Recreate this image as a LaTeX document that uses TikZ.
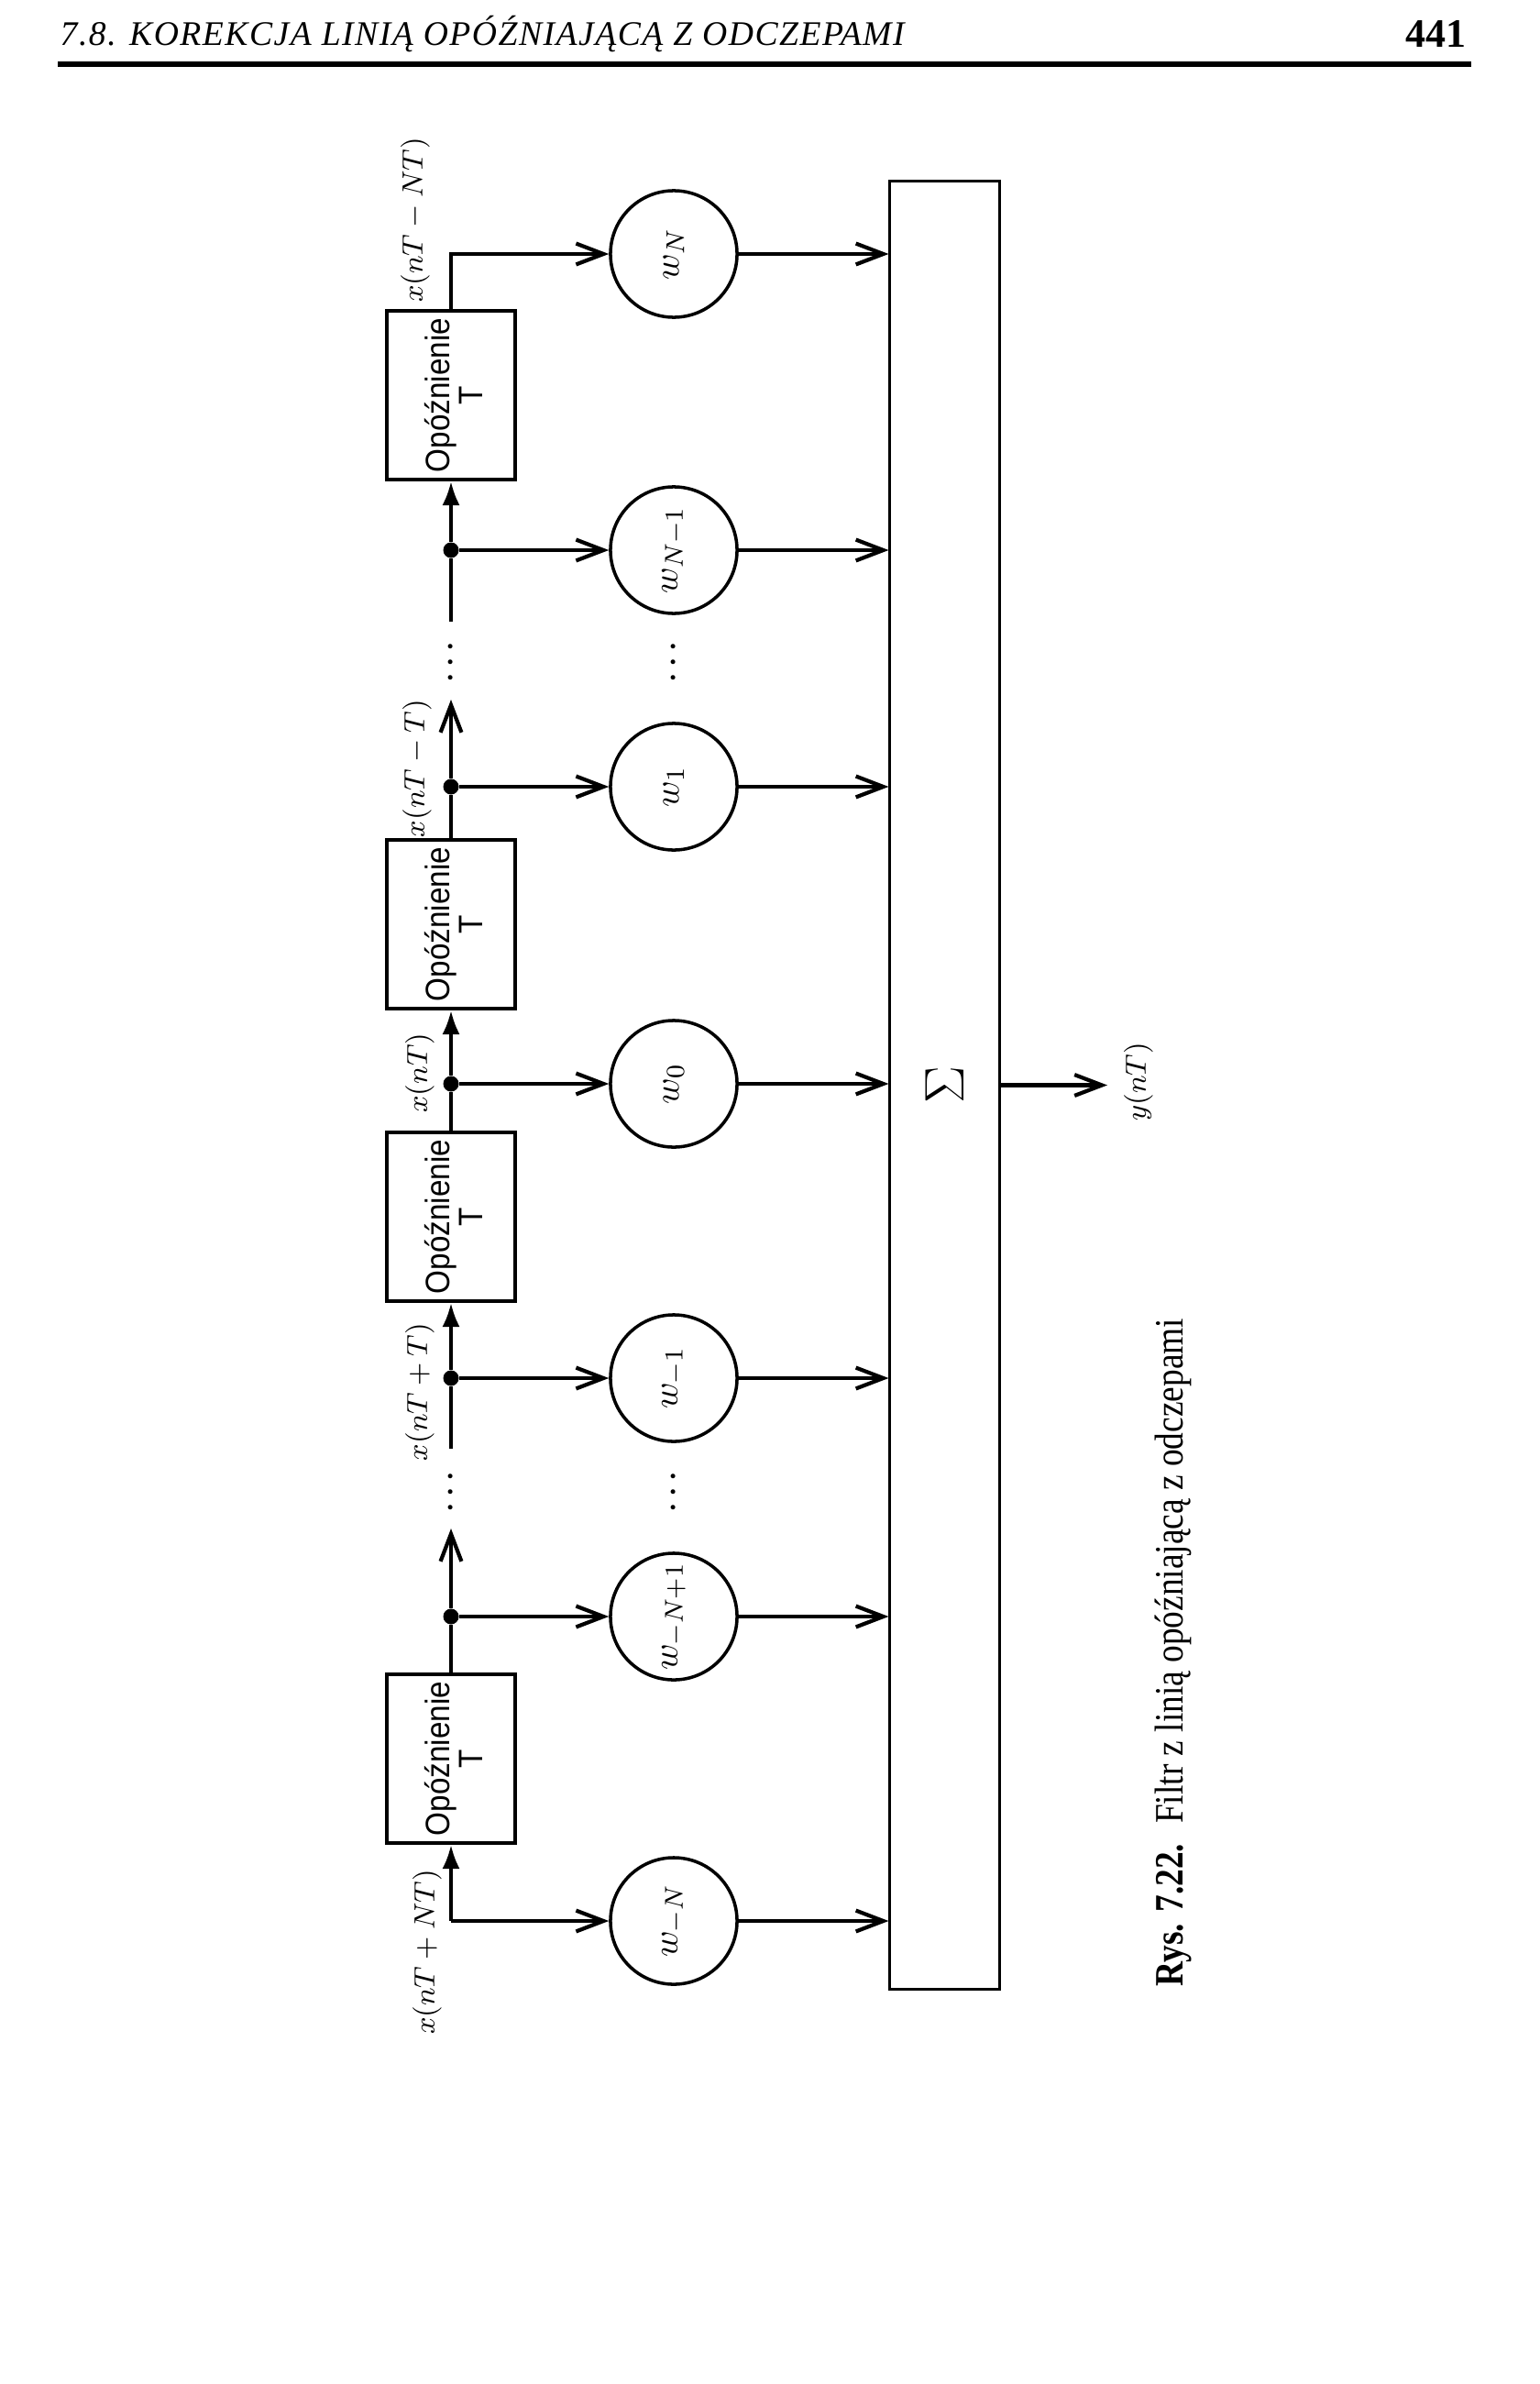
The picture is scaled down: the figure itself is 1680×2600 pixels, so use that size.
\documentclass[tikz,border=0pt]{standalone}
\usepackage{fontspec}
\usepackage{graphicx}
\setmainfont{Liberation Serif}
\newfontfamily\boxfont[FakeStretch=0.9]{Liberation Sans}
\newfontfamily\capfont[FakeStretch=0.85]{Liberation Serif}
\newfontfamily\headfont[LetterSpace=4]{Liberation Serif}
\usetikzlibrary{arrows.meta}
\begin{document}
\begin{tikzpicture}[x=0.01cm,y=-0.01cm,
  wire/.style={line width=1.2pt},
  tap/.style={wire,-{Straight Barb[length=8.5pt,width=6.5pt]}},
  feed/.style={wire,-{Latex[length=7.5pt,width=5.5pt]}},
  delaybox/.style={draw,line width=1pt,minimum width=1.40cm,minimum height=1.84cm,inner sep=0pt},
  boxtext/.style={inner sep=0pt,font=\boxfont\fontsize{10.5}{10}\selectfont},
  wcirc/.style={draw,circle,line width=1pt,minimum size=1.38cm,inner sep=0pt,font=\fontsize{11}{13}\selectfont},
  junc/.style={circle,fill,minimum size=0.17cm,inner sep=0pt},
  sig/.style={rotate=90,inner sep=0pt,font=\fontsize{9}{11}\selectfont},
  ellip/.style={inner sep=0pt,font=\fontsize{12}{12}\selectfont}
]
\useasboundingbox (0,0) rectangle (1680,2600);
\fill[white] (0,0) rectangle (1680,2600);

% page header
\node[anchor=base west,inner sep=0pt,font=\headfont\itshape\fontsize{10.7}{12}\selectfont] (head) at (65,50) {7.8. KOREKCJA LINIĄ OPÓŹNIAJĄCĄ Z ODCZEPAMI};
\node[anchor=base east,inner sep=0pt,font=\bfseries\fontsize{12.5}{14}\selectfont] (pg) at (1600,52) {441};
\coordinate (r1) at (63,70);
\coordinate (r2) at (1605,70);
\draw[line width=1.5pt] (r1) -- (r2);

% delay boxes
\newcommand{\delaytxt}{\rotatebox{90}{\begin{tabular}{@{}c@{}}Opóźnienie\\T\end{tabular}}}
\node[delaybox] (d1) at (492,431) {};
\node[boxtext] (d1t) at (500,431) {\delaytxt};
\node[delaybox] (d2) at (492,1008) {};
\node[boxtext] (d2t) at (500,1008) {\delaytxt};
\node[delaybox] (d3) at (492,1327) {};
\node[boxtext] (d3t) at (500,1327) {\delaytxt};
\node[delaybox] (d4) at (492,1918) {};
\node[boxtext] (d4t) at (500,1918) {\delaytxt};

% weight circles
\node[wcirc] (wN)   at (735,277)  {\rotatebox{90}{$w_{N}$}};
\node[wcirc] (wN1)  at (735,600)  {\rotatebox{90}{$w_{N-1}$}};
\node[wcirc] (w1)   at (735,858)  {\rotatebox{90}{$w_{1}$}};
\node[wcirc] (w0)   at (735,1182) {\rotatebox{90}{$w_{0}$}};
\node[wcirc] (wm1)  at (735,1503) {\rotatebox{90}{$w_{-1}$}};
\node[wcirc] (wmN1) at (735,1763) {\rotatebox{90}{$w_{-N+1}$}};
\node[wcirc] (wmN)  at (735,2095) {\rotatebox{90}{$w_{-N}$}};

% summing box
\node[draw,line width=0.85pt,minimum width=1.19cm,minimum height=19.71cm,inner sep=0pt] (sum) at (1030.5,1183.5) {\rotatebox{90}{\fontsize{18}{18}\selectfont$\Sigma$}};
\coordinate (yout) at (1208,1183.5);

% junctions and free ends
\node[junc] (j2) at (492,600) {};
\node[junc] (j3) at (492,858) {};
\node[junc] (j4) at (492,1182) {};
\node[junc] (j5) at (492,1503) {};
\node[junc] (j6) at (492,1763) {};
\coordinate (cin) at (492,2095);
\coordinate (e1) at (492,678);
\coordinate (a2) at (492,763);
\coordinate (e4) at (492,1580);
\coordinate (a5) at (492,1667);

% ellipses
\newcommand{\vdotsx}{\rotatebox{90}{.\kern1.8pt.\kern1.8pt.}}
\node[ellip] (el1) at (492,722) {\vdotsx};
\node[ellip] (el2) at (492,1627) {\vdotsx};
\node[ellip] (el3) at (735,722) {\vdotsx};
\node[ellip] (el4) at (735,1627) {\vdotsx};

% delay line
\draw[feed] (cin) -- (d4.south);
\draw[tap] (cin) -- (wmN);
\draw[wire] (d4.north) -- (j6);
\draw[tap] (j6) -- (wmN1);
\draw[tap] (j6) -- (a5);
\draw[wire] (e4) -- (j5);
\draw[tap] (j5) -- (wm1);
\draw[feed] (j5) -- (d3.south);
\draw[wire] (d3.north) -- (j4);
\draw[tap] (j4) -- (w0);
\draw[feed] (j4) -- (d2.south);
\draw[wire] (d2.north) -- (j3);
\draw[tap] (j3) -- (w1);
\draw[tap] (j3) -- (a2);
\draw[wire] (e1) -- (j2);
\draw[tap] (j2) -- (wN1);
\draw[feed] (j2) -- (d1.south);
\draw[tap] (d1.north) |- (wN);

% into the sum
\foreach \w in {wN,wN1,w1,w0,wm1,wmN1,wmN}
  \draw[tap] (\w) -- (\w -| sum.west);
\draw[tap] (sum.east) -- (yout);

% signal labels
\node[sig] (lNT)  at (453,240)  {$x(nT-NT)$};
\node[sig] (lT)   at (455,838)  {$x(nT-T)$};
\node[sig] (l0)   at (458,1170) {$x(nT)$};
\node[sig] (lpT)  at (458,1518) {$x(nT+T)$};
\node[sig] (lpNT) at (466,2129) {$x(nT+NT)$};
\node[sig] (ly)   at (1242,1180) {$y(nT)$};

% caption
\node[rotate=90,anchor=base west,inner sep=0pt,font=\capfont\fontsize{12.5}{14}\selectfont] (cap) at (1290,2167) {\textbf{Rys. 7.22.}\enspace Filtr z linią opóźniającą z odczepami};
\end{tikzpicture}
\end{document}
